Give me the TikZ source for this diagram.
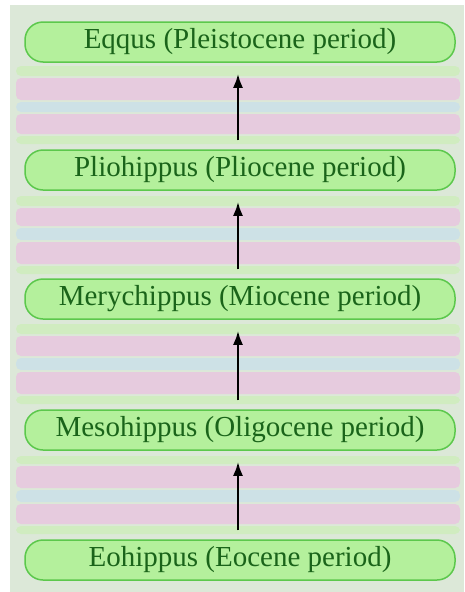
\documentclass[tikz,border=0pt]{standalone}
\usepackage{fontspec}
\setmainfont{Liberation Serif}
\usetikzlibrary{arrows.meta}
\definecolor{bg}{HTML}{DCE8D8}
\definecolor{bandpink}{HTML}{EEB8E2}
\definecolor{bandgreen}{HTML}{C8F0B0}
\definecolor{bandblue}{HTML}{C4DDF0}
\definecolor{boxfill}{HTML}{B4F09C}
\definecolor{boxline}{HTML}{5CC84C}
\definecolor{txt}{HTML}{1A641A}
\tikzset{
  stage/.style={draw=boxline, line width=1.5pt, fill=boxfill, rounded corners=18pt,
    minimum width=430pt, minimum height=40pt, inner sep=0pt, text=txt,
    font=\fontsize{29}{32}\selectfont},
  evo/.style={-{Latex[length=14pt,width=10pt]}, line width=2.4pt, black,
    shorten <=9pt, shorten >=11pt}
}
\begin{document}
\begin{tikzpicture}[x=1pt,y=-1pt]
\useasboundingbox (0,0) rectangle (464,592);
\fill[white] (0,0) rectangle (464,592);
\fill[bg] (10,5) rectangle (464,592);
% pastel bands
\foreach \y/\c/\h in {66/bandgreen/10,78/bandpink/22,102/bandblue/10,114/bandpink/20,136/bandgreen/8,
  196/bandgreen/10,208/bandpink/18,228/bandblue/12,242/bandpink/22,266/bandgreen/8,
  324/bandgreen/10,336/bandpink/20,358/bandblue/12,372/bandpink/22,396/bandgreen/8,
  456/bandgreen/8,466/bandpink/22,490/bandblue/12,504/bandpink/20,526/bandgreen/8}
  \fill[\c, opacity=0.6, rounded corners=5pt] (16,\y) rectangle (460,\y+\h);
\node[stage] (eq) at (240,42) {Eqqus (Pleistocene period)};
\node[stage] (pl) at (240,170) {Pliohippus (Pliocene period)};
\node[stage] (me) at (240,299) {Merychippus (Miocene period)};
\node[stage] (ms) at (240,430) {Mesohippus (Oligocene period)};
\node[stage] (eo) at (240,560) {Eohippus (Eocene period)};
\draw[evo] (pl.north -| 238,0) -- (eq.south -| 238,0);
\draw[evo] (me.north -| 238,0) -- (pl.south -| 238,0);
\draw[evo] (ms.north -| 238,0) -- (me.south -| 238,0);
\draw[evo] (eo.north -| 238,0) -- (ms.south -| 238,0);
\end{tikzpicture}
\end{document}
